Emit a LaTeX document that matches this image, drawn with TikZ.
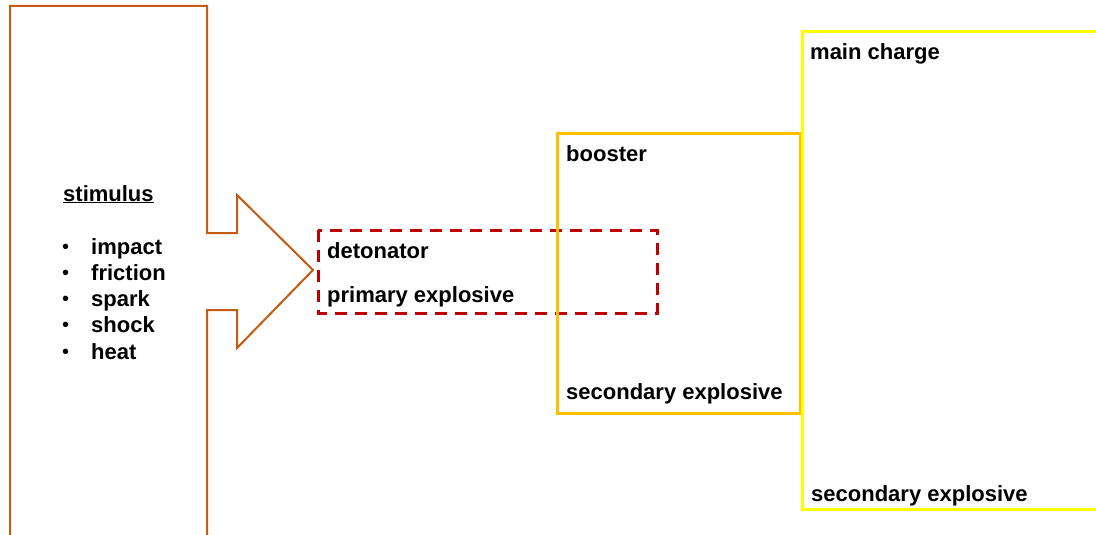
\documentclass[tikz,border=0pt]{standalone}
\usepackage{fontspec}
\setmainfont{Liberation Sans}
\usetikzlibrary{math}
\definecolor{stimorange}{RGB}{197,90,17}
\definecolor{detred}{RGB}{192,0,0}
\definecolor{boostgold}{RGB}{255,192,0}
\definecolor{chargeyellow}{RGB}{255,255,0}

\begin{document}
\begin{tikzpicture}[x=1pt, y=-1pt,
    lbl/.style={anchor=base west, inner sep=0pt, font=\fontsize{22}{26}\selectfont\bfseries},
    dot/.style={anchor=base west, inner sep=0pt, font=\fontsize{20}{24}\selectfont}]
  \tikzmath{
    \dy = 26.3;
  }
  \useasboundingbox (0,0) rectangle (1096,535);
  \clip (0,0) rectangle (1096,535);

  % stimulus arrow
  \draw [stimorange, line width=2pt] (10,545) -- (10,6) -- (207,6) -- (207,233) -- (237,233) -- (237,195)
    -- (313,270) -- (237,348) -- (237,310) -- (207,310) -- (207,545);

  % detonator, booster, main charge
  \draw [detred, line width=3pt, dash pattern=on 12pt off 8pt] (318,230) rectangle (657,313);
  \draw [boostgold, line width=3pt] (557,133) rectangle (800,413);
  \draw [chargeyellow, line width=3pt] (1110,32) -- (802,32) -- (802,509) -- (1110,509);

  % labels
  \node [lbl] (stim) at (63,201) {\underline{stimulus}};
  \foreach \w [count=\i] in {impact, friction, spark, shock, heat} {
    \node [dot] (dot\i) at (62, {253+(\i-1)*\dy}) {\textbullet};
    \node [lbl] (item\i) at (91, {254+(\i-1)*\dy}) {\w};
  }
  \node [lbl] (det) at (327,258) {detonator};
  \node [lbl] (prim) at (327,302) {primary explosive};
  \node [lbl] (boost) at (566,161) {booster};
  \node [lbl] (boostsec) at (566,399) {secondary explosive};
  \node [lbl] (main) at (810,60) {main charge};
  \node [lbl] (mainsec) at (811,501) {secondary explosive};
\end{tikzpicture}
\end{document}
